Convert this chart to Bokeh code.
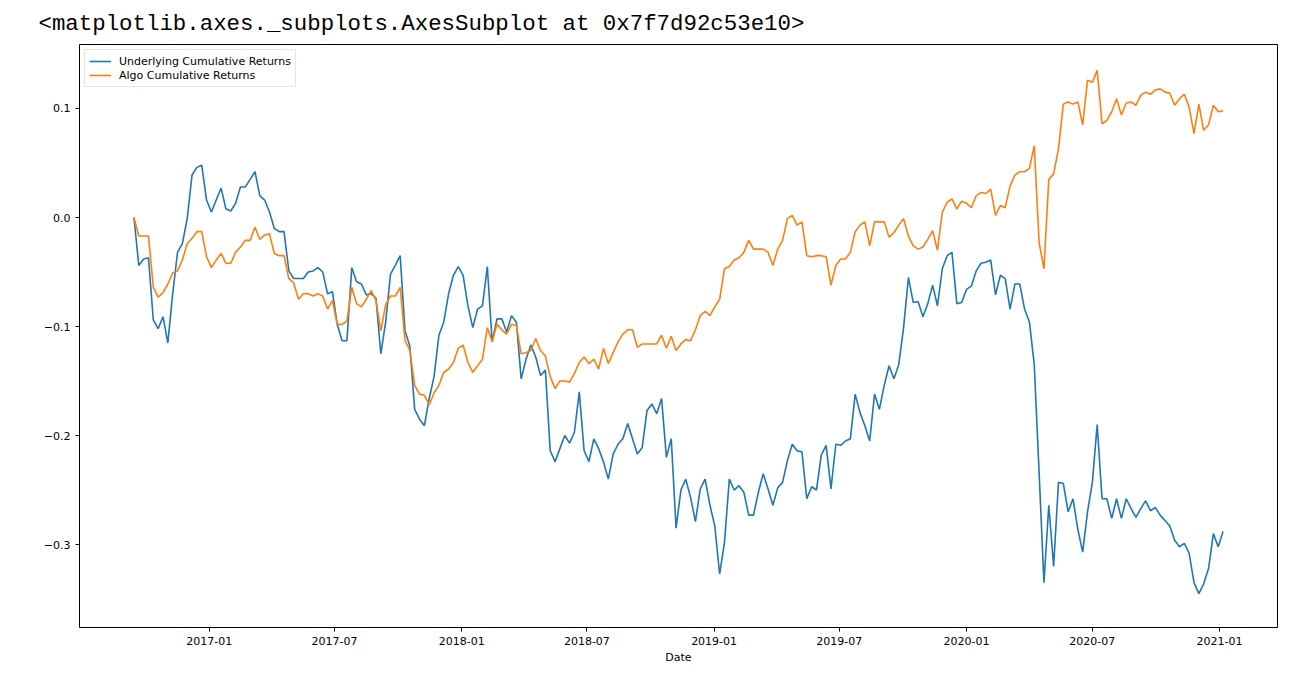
import pandas as pd
from bokeh.plotting import figure
from bokeh.models import Range1d, FixedTicker
from bokeh.embed import file_html
from bokeh.resources import INLINE

# ---- data (weekly samples) ----
start_date = "2016-09-14"

underlying = [
    0.000, -0.044, -0.038, -0.037, -0.094, -0.102, -0.091, -0.115, -0.070, -0.032,
    -0.024, -0.001, 0.039, 0.046, 0.048, 0.016, 0.005, 0.016, 0.027, 0.008,
    0.006, 0.013, 0.028, 0.028, 0.035, 0.042, 0.020, 0.016, 0.005, -0.010,
    -0.013, -0.013, -0.049, -0.056, -0.056, -0.056, -0.050, -0.049, -0.046, -0.050,
    -0.070, -0.068, -0.098, -0.113, -0.113, -0.046, -0.059, -0.061, -0.071, -0.070,
    -0.074, -0.125, -0.096, -0.052, -0.044, -0.035, -0.104, -0.118, -0.176, -0.185,
    -0.191, -0.166, -0.146, -0.108, -0.096, -0.070, -0.053, -0.045, -0.053, -0.081,
    -0.101, -0.084, -0.081, -0.045, -0.114, -0.093, -0.093, -0.105, -0.090, -0.096,
    -0.148, -0.130, -0.117, -0.128, -0.145, -0.140, -0.214, -0.224, -0.212, -0.200,
    -0.207, -0.197, -0.160, -0.214, -0.224, -0.203, -0.212, -0.224, -0.240, -0.217,
    -0.208, -0.203, -0.189, -0.203, -0.217, -0.211, -0.177, -0.171, -0.180, -0.166,
    -0.220, -0.203, -0.285, -0.250, -0.240, -0.257, -0.279, -0.249, -0.240, -0.264,
    -0.283, -0.327, -0.298, -0.240, -0.250, -0.246, -0.252, -0.273, -0.273, -0.252,
    -0.235, -0.249, -0.264, -0.248, -0.243, -0.223, -0.208, -0.214, -0.215, -0.258,
    -0.247, -0.250, -0.218, -0.209, -0.249, -0.208, -0.209, -0.205, -0.203, -0.162,
    -0.179, -0.191, -0.205, -0.162, -0.176, -0.154, -0.136, -0.148, -0.135, -0.101,
    -0.055, -0.078, -0.077, -0.091, -0.079, -0.062, -0.081, -0.047, -0.035, -0.032,
    -0.079, -0.078, -0.066, -0.063, -0.049, -0.042, -0.041, -0.039, -0.071, -0.053,
    -0.056, -0.084, -0.061, -0.061, -0.084, -0.096, -0.135, -0.234, -0.335, -0.264,
    -0.320, -0.243, -0.244, -0.270, -0.258, -0.286, -0.307, -0.270, -0.243, -0.190,
    -0.258, -0.258, -0.276, -0.258, -0.276, -0.258, -0.267, -0.275, -0.267, -0.260,
    -0.269, -0.266, -0.273, -0.278, -0.283, -0.296, -0.302, -0.299, -0.308, -0.335,
    -0.345, -0.336, -0.322, -0.290, -0.302, -0.288,
]

algo = [
    0.000, -0.017, -0.017, -0.017, -0.064, -0.073, -0.069, -0.061, -0.051, -0.049,
    -0.039, -0.024, -0.019, -0.013, -0.013, -0.036, -0.046, -0.039, -0.033, -0.042,
    -0.042, -0.032, -0.027, -0.021, -0.021, -0.009, -0.020, -0.016, -0.015, -0.033,
    -0.035, -0.035, -0.056, -0.060, -0.075, -0.070, -0.070, -0.072, -0.070, -0.072,
    -0.084, -0.076, -0.098, -0.098, -0.095, -0.064, -0.079, -0.082, -0.075, -0.067,
    -0.076, -0.104, -0.080, -0.072, -0.072, -0.064, -0.113, -0.122, -0.154, -0.162,
    -0.163, -0.172, -0.161, -0.154, -0.142, -0.139, -0.133, -0.120, -0.117, -0.133,
    -0.142, -0.136, -0.130, -0.101, -0.114, -0.098, -0.103, -0.107, -0.098, -0.099,
    -0.125, -0.124, -0.122, -0.111, -0.122, -0.127, -0.146, -0.157, -0.150, -0.150,
    -0.151, -0.143, -0.133, -0.128, -0.134, -0.130, -0.139, -0.120, -0.134, -0.124,
    -0.114, -0.107, -0.103, -0.103, -0.119, -0.116, -0.116, -0.116, -0.116, -0.108,
    -0.120, -0.109, -0.122, -0.116, -0.112, -0.113, -0.103, -0.090, -0.086, -0.090,
    -0.082, -0.075, -0.047, -0.045, -0.039, -0.037, -0.032, -0.021, -0.029, -0.029,
    -0.029, -0.032, -0.044, -0.029, -0.021, -0.001, 0.002, -0.007, -0.004, -0.035,
    -0.036, -0.035, -0.035, -0.036, -0.062, -0.044, -0.038, -0.038, -0.032, -0.013,
    -0.007, -0.004, -0.026, -0.004, -0.004, -0.004, -0.018, -0.014, -0.007, -0.001,
    -0.017, -0.026, -0.029, -0.027, -0.020, -0.012, -0.030, 0.005, 0.014, 0.017,
    0.008, 0.015, 0.013, 0.009, 0.020, 0.023, 0.022, 0.026, 0.002, 0.011,
    0.009, 0.029, 0.039, 0.042, 0.042, 0.045, 0.066, -0.023, -0.047, 0.035,
    0.040, 0.063, 0.104, 0.106, 0.104, 0.106, 0.085, 0.126, 0.124, 0.135,
    0.086, 0.089, 0.097, 0.109, 0.094, 0.105, 0.106, 0.103, 0.112, 0.115,
    0.113, 0.117, 0.118, 0.115, 0.114, 0.103, 0.109, 0.113, 0.101, 0.077,
    0.104, 0.080, 0.085, 0.103, 0.097, 0.098,
]

x_tick_labels = ["2017-01", "2017-07", "2018-01", "2018-07", "2019-01",
                 "2019-07", "2020-01", "2020-07", "2021-01"]
y_ticks = [-0.3, -0.2, -0.1, 0.0, 0.1]
series_names = ["Underlying Cumulative Returns", "Algo Cumulative Returns"]
header_text = "<matplotlib.axes._subplots.AxesSubplot at 0x7f7d92c53e10>"

dates = pd.date_range(start_date, periods=len(underlying), freq="7D")

# ---- figure ----
d0, d1 = dates[0], dates[-1]
pad = (d1 - d0) * 0.05

p = figure(
    width=1288, height=672,
    x_axis_type="datetime",
    x_range=Range1d((d0 - pad).to_pydatetime(), (d1 + pad).to_pydatetime()),
    y_range=Range1d(-0.3761, 0.1587),
    output_backend="svg", toolbar_location=None,
    min_border_left=79, min_border_right=11, min_border_top=44, min_border_bottom=45,
)
p.background_fill_color = "white"
p.border_fill_color = "white"
p.outline_line_color = "black"
p.outline_line_width = 1
p.xgrid.visible = False
p.ygrid.visible = False

p.title.text = header_text
p.title.text_font = "Liberation Mono"
p.title.text_font_size = "22.4px"
p.title.text_font_style = "normal"
p.title.text_color = "black"
p.title.align = "left"
p.title.offset = -41
p.title.standoff = 15

p.line(dates, underlying, line_color="#1f77b4", line_width=1.6, legend_label=series_names[0])
p.line(dates, algo, line_color="#ff7f0e", line_width=1.6, legend_label=series_names[1])

tick_ms = [pd.Timestamp(t).value / 1e6 for t in x_tick_labels]
p.xaxis.ticker = FixedTicker(ticks=tick_ms)
p.xaxis.major_label_overrides = {ms: lab for ms, lab in zip(tick_ms, x_tick_labels)}
p.yaxis.ticker = FixedTicker(ticks=y_ticks)
p.yaxis.major_label_overrides = {
    v: ("\u2212" + f"{abs(v):.1f}") if v < 0 else f"{v:.1f}" for v in y_ticks
}
p.xaxis.axis_label = "Date"

for ax in (p.xaxis[0], p.yaxis[0]):
    ax.axis_line_color = None
    ax.major_tick_line_color = "black"
    ax.major_tick_in = 0
    ax.major_tick_out = 4
    ax.minor_tick_line_color = None
    ax.major_label_text_font = "DejaVu Sans"
    ax.major_label_text_font_size = "11px"
    ax.major_label_text_color = "black"
    ax.major_label_standoff = 5
    ax.axis_label_text_font = "DejaVu Sans"
    ax.axis_label_text_font_size = "11px"
    ax.axis_label_text_font_style = "normal"
    ax.axis_label_text_color = "black"
    ax.axis_label_standoff = 3

lg = p.legend[0]
lg.location = "top_left"
lg.margin = 5
lg.padding = 4
lg.spacing = 0
lg.label_height = 14
lg.glyph_height = 14
lg.glyph_width = 22
lg.label_standoff = 8
lg.label_text_font = "DejaVu Sans"
lg.label_text_font_size = "11px"
lg.label_text_color = "black"
lg.border_line_color = "#cccccc"
lg.background_fill_alpha = 0.8

open("out.html", "w").write(file_html(p, INLINE))
